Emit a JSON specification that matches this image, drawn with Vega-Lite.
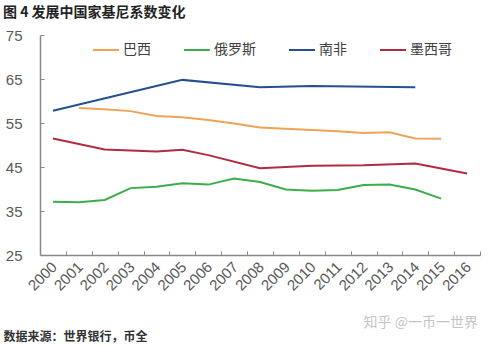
{
  "$schema": "https://vega.github.io/schema/vega-lite/v6.json",
  "autosize": "none",
  "width": 440,
  "height": 220,
  "padding": {"left": 40, "top": 35, "right": 19, "bottom": 91},
  "background": "white",
  "title": {
    "text": "图 4  发展中国家基尼系数变化",
    "anchor": "start",
    "frame": "group",
    "dx": -37,
    "offset": 8,
    "font": "Noto Sans CJK SC",
    "fontSize": 14,
    "fontWeight": "bold",
    "color": "#222222"
  },
  "config": {
    "view": {"stroke": null},
    "font": "Liberation Sans"
  },
  "data": {
    "values": [
      {"year": "2001", "country": "巴西", "gini": 58.4},
      {"year": "2002", "country": "巴西", "gini": 58.1},
      {"year": "2003", "country": "巴西", "gini": 57.7},
      {"year": "2004", "country": "巴西", "gini": 56.6},
      {"year": "2005", "country": "巴西", "gini": 56.3},
      {"year": "2006", "country": "巴西", "gini": 55.7},
      {"year": "2007", "country": "巴西", "gini": 54.9},
      {"year": "2008", "country": "巴西", "gini": 54.0},
      {"year": "2009", "country": "巴西", "gini": 53.7},
      {"year": "2011", "country": "巴西", "gini": 53.1},
      {"year": "2012", "country": "巴西", "gini": 52.7},
      {"year": "2013", "country": "巴西", "gini": 52.9},
      {"year": "2014", "country": "巴西", "gini": 51.5},
      {"year": "2015", "country": "巴西", "gini": 51.4},
      {"year": "2000", "country": "俄罗斯", "gini": 37.1},
      {"year": "2001", "country": "俄罗斯", "gini": 37.0},
      {"year": "2002", "country": "俄罗斯", "gini": 37.5},
      {"year": "2003", "country": "俄罗斯", "gini": 40.2},
      {"year": "2004", "country": "俄罗斯", "gini": 40.5},
      {"year": "2005", "country": "俄罗斯", "gini": 41.3},
      {"year": "2006", "country": "俄罗斯", "gini": 41.0},
      {"year": "2007", "country": "俄罗斯", "gini": 42.4},
      {"year": "2008", "country": "俄罗斯", "gini": 41.6},
      {"year": "2009", "country": "俄罗斯", "gini": 39.9},
      {"year": "2010", "country": "俄罗斯", "gini": 39.6},
      {"year": "2011", "country": "俄罗斯", "gini": 39.8},
      {"year": "2012", "country": "俄罗斯", "gini": 40.9},
      {"year": "2013", "country": "俄罗斯", "gini": 41.0},
      {"year": "2014", "country": "俄罗斯", "gini": 39.9},
      {"year": "2015", "country": "俄罗斯", "gini": 37.8},
      {"year": "2000", "country": "南非", "gini": 57.8},
      {"year": "2005", "country": "南非", "gini": 64.8},
      {"year": "2008", "country": "南非", "gini": 63.1},
      {"year": "2010", "country": "南非", "gini": 63.4},
      {"year": "2014", "country": "南非", "gini": 63.1},
      {"year": "2000", "country": "墨西哥", "gini": 51.5},
      {"year": "2002", "country": "墨西哥", "gini": 49.0},
      {"year": "2004", "country": "墨西哥", "gini": 48.5},
      {"year": "2005", "country": "墨西哥", "gini": 48.9},
      {"year": "2006", "country": "墨西哥", "gini": 47.7},
      {"year": "2008", "country": "墨西哥", "gini": 44.7},
      {"year": "2010", "country": "墨西哥", "gini": 45.3},
      {"year": "2012", "country": "墨西哥", "gini": 45.4},
      {"year": "2014", "country": "墨西哥", "gini": 45.8},
      {"year": "2016", "country": "墨西哥", "gini": 43.5}
    ]
  },
  "mark": {"type": "line", "strokeWidth": 2},
  "encoding": {
    "x": {
      "field": "year",
      "type": "ordinal",
      "scale": {
        "type": "point",
        "padding": 0.5,
        "domain": ["2000","2001","2002","2003","2004","2005","2006","2007","2008","2009","2010","2011","2012","2013","2014","2015","2016"]
      },
      "axis": {
        "title": "数据来源：世界银行，币全",
        "titleFont": "Noto Sans CJK SC",
        "titleFontSize": 12,
        "titleFontWeight": "bold",
        "titleColor": "#333333",
        "titleAnchor": "start",
        "titleAlign": "left",
        "titleX": -37,
        "titleY": 76,
        "labelAngle": -45,
        "labelFontSize": 15,
        "labelColor": "#595959",
        "labelPadding": 8,
        "labelOffset": -17,
        "tickOffset": 13,
        "tickSize": -4,
        "tickColor": "#888888",
        "domainColor": "#888888",
        "domainWidth": 1.5
      }
    },
    "y": {
      "field": "gini",
      "type": "quantitative",
      "scale": {"domain": [25, 75], "nice": false, "zero": false},
      "axis": {
        "title": "知乎 @一币一世界",
        "titleAngle": 0,
        "titleFont": "Noto Sans CJK SC",
        "titleFontSize": 14,
        "titleFontWeight": "normal",
        "titleColor": "#c4c4c4",
        "titleAlign": "left",
        "titleBaseline": "middle",
        "titleX": 323,
        "titleY": 287,
        "values": [25, 35, 45, 55, 65, 75],
        "grid": false,
        "labelFontSize": 15,
        "labelColor": "#595959",
        "labelPadding": 22,
        "tickSize": -4,
        "tickColor": "#888888",
        "domainColor": "#888888",
        "domainWidth": 1.5
      }
    },
    "color": {
      "field": "country",
      "type": "nominal",
      "scale": {
        "domain": ["巴西", "俄罗斯", "南非", "墨西哥"],
        "range": ["#EFA356", "#3BAE4B", "#24508F", "#B02B40"]
      },
      "legend": {
        "title": null,
        "orient": "none",
        "legendX": 52,
        "legendY": 1,
        "direction": "horizontal",
        "columns": 4,
        "gridAlign": "none",
        "columnPadding": 29,
        "symbolType": "stroke",
        "symbolSize": 676,
        "symbolStrokeWidth": 2,
        "symbolOffset": 0,
        "labelOffset": 3,
        "labelFont": "Noto Sans CJK SC",
        "labelFontSize": 14,
        "labelColor": "#404040",
        "padding": 0
      }
    }
  }
}
